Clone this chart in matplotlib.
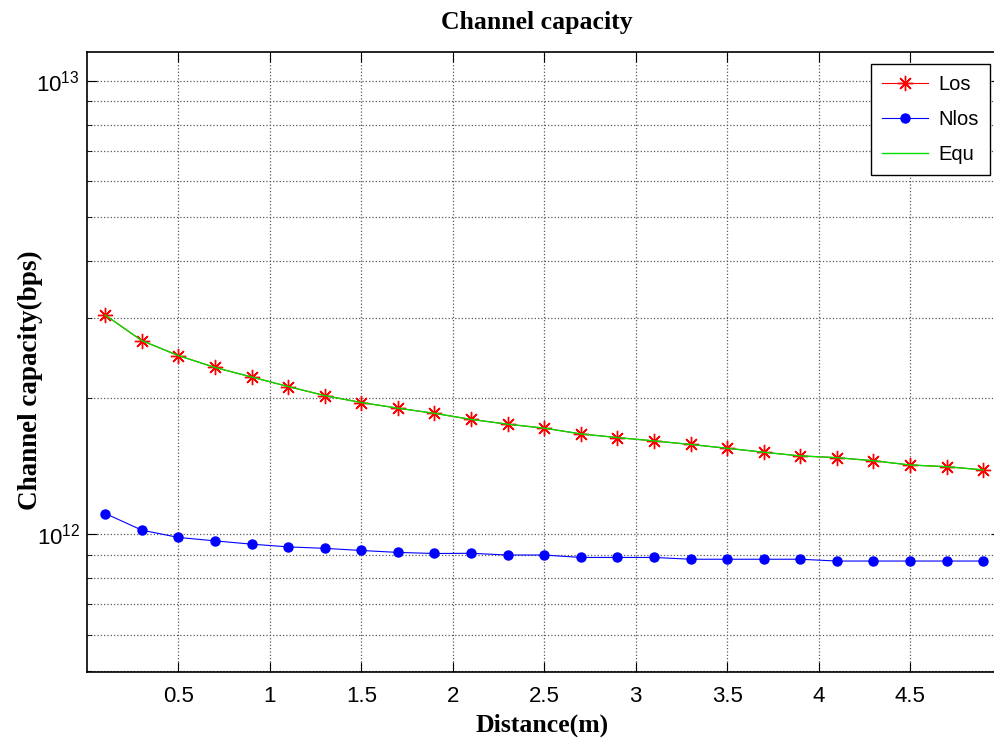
import numpy as np
import matplotlib.pyplot as plt
from matplotlib.ticker import LogLocator, NullFormatter

# distance (m)
distance = [0.1, 0.3, 0.5, 0.7, 0.9, 1.1, 1.3, 1.5, 1.7, 1.9, 2.1, 2.3, 2.5,
            2.7, 2.9, 3.1, 3.3, 3.5, 3.7, 3.9, 4.1, 4.3, 4.5, 4.7, 4.9]

# channel capacity (bps)
los = [3.04e12, 2.67e12, 2.475e12, 2.33e12, 2.22e12, 2.115e12, 2.02e12, 1.95e12,
       1.895e12, 1.846e12, 1.79e12, 1.747e12, 1.712e12, 1.663e12, 1.632e12,
       1.605e12, 1.576e12, 1.546e12, 1.515e12, 1.487e12, 1.474e12, 1.451e12,
       1.42e12, 1.408e12, 1.385e12]
nlos = [1.11e12, 1.02e12, 0.983e12, 0.966e12, 0.95e12, 0.937e12, 0.93e12, 0.92e12,
        0.911e12, 0.906e12, 0.907e12, 0.899e12, 0.899e12, 0.888e12, 0.888e12,
        0.888e12, 0.880e12, 0.880e12, 0.880e12, 0.880e12, 0.872e12, 0.872e12,
        0.872e12, 0.872e12, 0.872e12]
equ = [3.04e12, 2.67e12, 2.475e12, 2.33e12, 2.22e12, 2.115e12, 2.02e12, 1.95e12,
       1.895e12, 1.846e12, 1.79e12, 1.747e12, 1.712e12, 1.663e12, 1.632e12,
       1.605e12, 1.576e12, 1.546e12, 1.515e12, 1.487e12, 1.474e12, 1.451e12,
       1.42e12, 1.408e12, 1.385e12]

xticks = [0.5, 1, 1.5, 2, 2.5, 3, 3.5, 4, 4.5]
xticklabels = ['0.5', '1', '1.5', '2', '2.5', '3', '3.5', '4', '4.5']

plt.rcParams['font.family'] = ['Liberation Sans', 'DejaVu Sans']
plt.rcParams['mathtext.fontset'] = 'custom'
plt.rcParams['mathtext.rm'] = 'Liberation Sans'
serif = ['Liberation Serif', 'DejaVu Serif']

fig = plt.figure(figsize=(9.94, 7.46), dpi=100)
ax = fig.add_axes([0.0875, 0.099, 0.92, 0.831])

# matlab style '*' marker: 8 spokes
ax.semilogy(distance, los, color='red', marker=(8, 2, 0), markersize=11,
            markeredgewidth=1.0, linewidth=0.8, label='Los')
ax.semilogy(distance, nlos, color='blue', marker='o', markersize=6.5,
            linewidth=0.8, label='Nlos')
ax.semilogy(distance, equ, color='#00e000', linewidth=1.0, label='Equ')

ax.set_xlim(0, 5)
ax.set_ylim(4.96e11, 1.155e13)
ax.set_xticks(xticks)
ax.set_xticklabels(xticklabels)
ax.yaxis.set_major_locator(LogLocator(base=10))
ax.yaxis.set_minor_locator(LogLocator(base=10, subs=np.arange(2, 10)))
ax.yaxis.set_minor_formatter(NullFormatter())

ax.grid(True, which='major', linestyle=':', color='0.35', linewidth=0.9)
ax.grid(True, which='minor', axis='y', linestyle=':', color='0.35', linewidth=0.9)
ax.tick_params(which='both', direction='in', top=True, right=True, labelsize=16)
ax.tick_params(axis='x', pad=10)
ax.tick_params(axis='y', pad=5)
ax.tick_params(which='major', length=7)
ax.tick_params(which='minor', length=3.5)
for s in ax.spines.values():
    s.set_linewidth(1.2)

fig.text(0.5405, 0.97, 'Channel capacity', ha='center', va='center',
         family=serif, fontweight='bold', fontsize=18.5)
fig.text(0.545, 0.028, 'Distance(m)', ha='center', va='center',
         family=serif, fontweight='bold', fontsize=18.5)
fig.text(0.031, 0.49, 'Channel capacity(bps)', ha='center', va='center',
         rotation=90, family=serif, fontweight='bold', fontsize=19.5)

leg = ax.legend(loc='upper right', bbox_to_anchor=(990 / 994, 1 - 64 / 746),
                bbox_transform=fig.transFigure, borderaxespad=0, fontsize=14.5,
                fancybox=False, edgecolor='black', framealpha=1,
                handlelength=2.3, handletextpad=0.5, labelspacing=0.8,
                borderpad=0.55)
leg.get_frame().set_linewidth(1.0)

fig.savefig('out.png', dpi=100)
